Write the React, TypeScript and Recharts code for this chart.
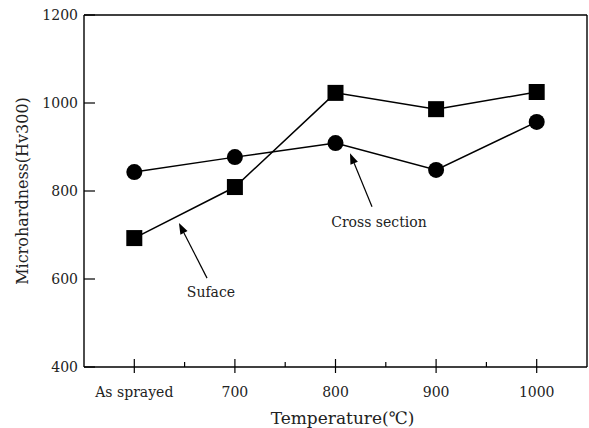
import {
  LineChart,
  Line,
  XAxis,
  YAxis,
  ReferenceLine,
  ReferenceDot,
} from "recharts";

const categories = ["As sprayed", "700", "800", "900", "1000"];
const crossSection = [843, 877, 909, 848, 957];
const surface = [693, 809, 1023, 986, 1025];
const yTicks = [400, 600, 800, 1000, 1200];
const xTicks = [0, 0.5, 1, 1.5, 2, 2.5, 3, 3.5, 4];

const data = categories.map((c, i) => ({
  x: i,
  name: c,
  cross: crossSection[i],
  surface: surface[i],
}));

const FONT = "DejaVu Serif";

function XTick(props: any) {
  const { x, y, payload } = props;
  const v = payload.value as number;
  if (!Number.isInteger(v)) {
    return <line x1={x} x2={x} y1={y} y2={y - 5} stroke="#000" strokeWidth={1.2} />;
  }
  return (
    <g>
      <line x1={x} x2={x} y1={y - 8} y2={y + 6} stroke="#000" strokeWidth={1.2} />
      <text x={x} y={y + 30} textAnchor="middle" fontFamily={FONT} fontSize={14} fill="#222">
        {categories[v]}
      </text>
    </g>
  );
}

function YTick(props: any) {
  const { x, y, payload } = props;
  return (
    <g>
      <line x1={x} x2={x + 11} y1={y} y2={y} stroke="#000" strokeWidth={1.2} />
      <text x={x - 6} y={y + 5} textAnchor="end" fontFamily={FONT} fontSize={14} fill="#222">
        {payload.value}
      </text>
    </g>
  );
}

function CircleDot(props: any) {
  const { cx, cy } = props;
  return <circle cx={cx} cy={cy} r={8} fill="#000" />;
}

function SquareDot(props: any) {
  const { cx, cy } = props;
  return <rect x={cx - 8} y={cy - 8} width={16} height={16} fill="#000" />;
}

function Arrow(props: any) {
  const { x1, y1, x2, y2 } = props;
  const ang = Math.atan2(y2 - y1, x2 - x1);
  const len = 11;
  const w = 4;
  const bx = x2 - len * Math.cos(ang);
  const by = y2 - len * Math.sin(ang);
  const px = -Math.sin(ang) * w;
  const py = Math.cos(ang) * w;
  return (
    <g>
      <line x1={x1} y1={y1} x2={bx} y2={by} stroke="#000" strokeWidth={1.2} />
      <polygon points={`${x2},${y2} ${bx + px},${by + py} ${bx - px},${by - py}`} fill="#000" />
    </g>
  );
}

function Note(text: string) {
  return (props: any) => (
    <text x={props.cx} y={props.cy} textAnchor="middle" fontFamily={FONT} fontSize={14} fill="#222">
      {text}
    </text>
  );
}

export default function App() {
  return (
    <div style={{ position: "absolute", left: 0, top: 0, background: "#fff" }}>
      <LineChart
        width={589}
        height={428}
        data={data}
        margin={{ top: 15, right: 2, left: 0, bottom: 0 }}
      >
        <XAxis
          dataKey="x"
          type="number"
          domain={[-0.5, 4.5]}
          ticks={xTicks}
          interval={0}
          tickSize={0}
          tickMargin={0}
          tickLine={false}
          tick={<XTick />}
          height={61}
          axisLine={{ stroke: "#000", strokeWidth: 1.4 }}
          label={{
            value: "Temperature(℃)",
            position: "insideBottom",
            offset: 4,
            dx: 7,
            style: { fontFamily: FONT, fontSize: 17, fill: "#222" },
          }}
        />
        <YAxis
          type="number"
          domain={[400, 1200]}
          ticks={yTicks}
          interval={0}
          tickSize={0}
          tickMargin={0}
          tickLine={false}
          tick={<YTick />}
          width={84}
          axisLine={{ stroke: "#000", strokeWidth: 1.4 }}
          label={{
            value: "Microhardness(Hv300)",
            angle: -90,
            position: "insideLeft",
            offset: 22,
            style: { fontFamily: FONT, fontSize: 16, fill: "#222", textAnchor: "middle" },
          }}
        />
        <ReferenceLine y={1200} stroke="#000" strokeWidth={1.4} />
        <ReferenceLine x={4.5} stroke="#000" strokeWidth={1.4} />
        <Line
          dataKey="cross"
          stroke="#000"
          strokeWidth={1.5}
          dot={<CircleDot />}
          isAnimationActive={false}
        />
        <Line
          dataKey="surface"
          stroke="#000"
          strokeWidth={1.5}
          dot={<SquareDot />}
          isAnimationActive={false}
        />
        <ReferenceLine
          segment={[
            { x: 2.363, y: 764 },
            { x: 2.144, y: 886 },
          ]}
          shape={<Arrow />}
        />
        <ReferenceLine
          segment={[
            { x: 0.723, y: 602 },
            { x: 0.444, y: 727 },
          ]}
          shape={<Arrow />}
        />
        <ReferenceDot x={2.432} y={718} r={0} shape={Note("Cross section")} />
        <ReferenceDot x={0.762} y={559} r={0} shape={Note("Suface")} />
      </LineChart>
    </div>
  );
}
